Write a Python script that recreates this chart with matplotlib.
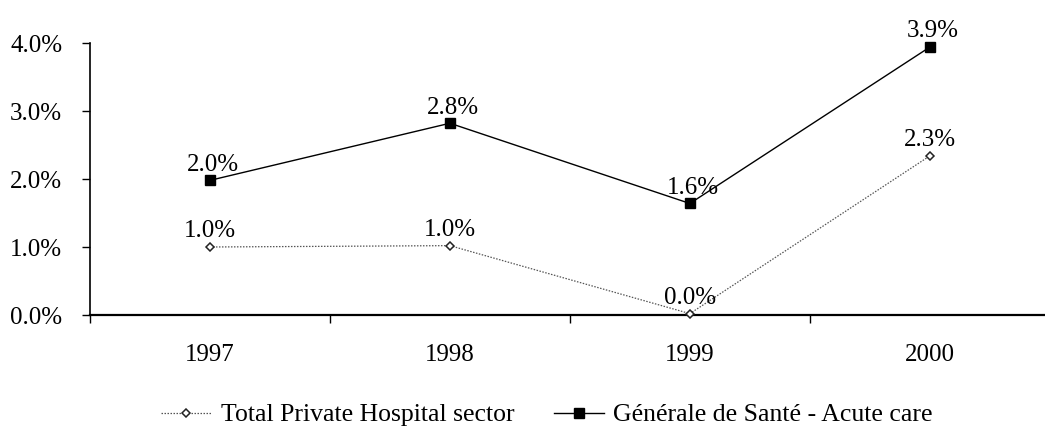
import matplotlib.pyplot as plt
from matplotlib.ticker import FuncFormatter

plt.rcParams['font.family'] = ['Liberation Serif', 'DejaVu Serif']

years = ["1997", "1998", "1999", "2000"]
total_private = [1.00, 1.02, 0.02, 2.34]
generale_sante = [1.98, 2.82, 1.64, 3.94]
series_names = ["Total Private Hospital sector", "Générale de Santé - Acute care"]

fig = plt.figure(figsize=(10.45, 4.29), dpi=100)
ax = fig.add_axes([90 / 1045, 1 - 315 / 429, 1 - 90 / 1045, (315 - 43) / 429])

x = range(len(years))
ax.plot(x, total_private, color="#555555", lw=0.9, ls=(0, (1.2, 1.2)),
        marker="D", ms=4, mfc="white", mec="#222222", mew=1.1,
        label=series_names[0], clip_on=False, zorder=3)
ax.plot(x, generale_sante, color="black", lw=1.0, ls="-",
        marker="s", ms=7.5, mfc="black", mec="black",
        label=series_names[1], clip_on=False, zorder=3)

# data labels above each point
for xi, v in zip(x, total_private):
    ax.annotate(f"{v:.1f}%", (xi, v), xytext=(0, 7), textcoords="offset points",
                ha="center", va="baseline", fontsize=18)
for xi, v in zip(x, generale_sante):
    ax.annotate(f"{v:.1f}%", (xi, v), xytext=(2, 7), textcoords="offset points",
                ha="center", va="baseline", fontsize=18)

ax.set_ylim(0, 4)
ax.set_yticks([0, 1, 2, 3, 4])
ax.yaxis.set_major_formatter(FuncFormatter(lambda v, p: f"{v:.1f}%"))
ax.set_xlim(-0.5, 3.48)
ax.set_xticks([-0.5, 0.5, 1.5, 2.5])
ax.set_xticklabels([])
ax.set_xticks(list(x), minor=True)
ax.set_xticklabels(years, minor=True)
ax.tick_params(axis="x", which="minor", length=0, labelsize=18, pad=21)
ax.tick_params(axis="x", which="major", length=6, direction="out", width=1)
ax.tick_params(axis="y", length=6, direction="out", labelsize=18, pad=14, width=1)

for s in ["top", "right"]:
    ax.spines[s].set_visible(False)
ax.spines["left"].set_linewidth(1.2)
ax.spines["bottom"].set_linewidth(1.6)

fig.legend(loc="center", bbox_to_anchor=(547 / 1045, 1 - 415 / 429), ncol=2,
           frameon=False, fontsize=18.5, handlelength=1.95, handletextpad=0.35,
           columnspacing=1.55, borderpad=0, borderaxespad=0)

fig.savefig("out.png", dpi=100)
